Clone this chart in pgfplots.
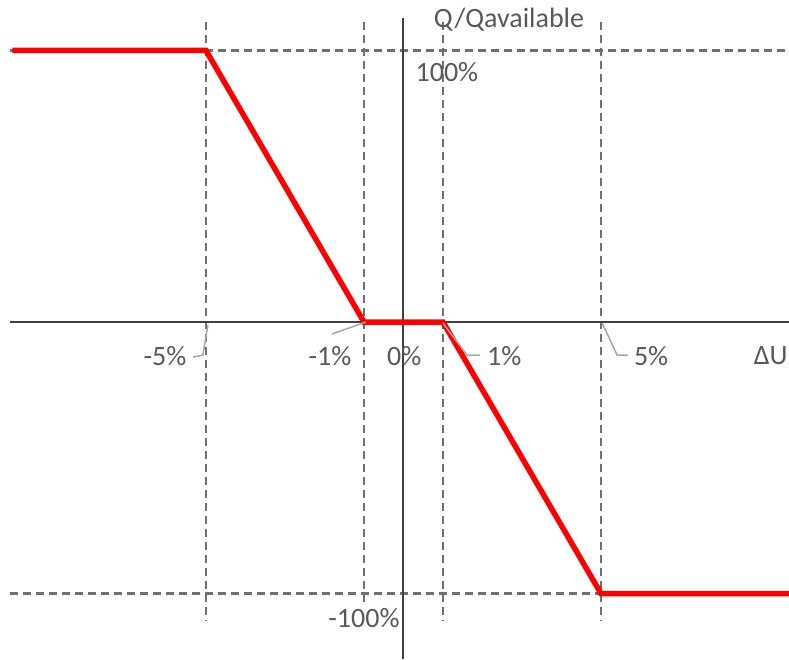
\documentclass[border=0pt]{standalone}
\usepackage{fontspec}
\setmainfont{Carlito}
\usepackage{pgfplots}
\pgfplotsset{compat=1.18}
\definecolor{txt}{HTML}{595959}
\definecolor{dsh}{HTML}{707070}
\definecolor{axc}{HTML}{404040}
\definecolor{lead}{HTML}{A6A6A6}
\begin{document}
\begin{tikzpicture}[lbl/.style={txt, font=\fontsize{28}{33}\selectfont, inner sep=1pt}]
\useasboundingbox (0,0) rectangle (789pt,659pt);
\begin{axis}[at={(0,0)}, anchor=south west, scale only axis,
  width=789pt, height=659pt,
  xmin=-10.215, xmax=9.76, ymin=-124.1, ymax=118.6,
  hide axis, clip=false]
% dashed guides
\addplot[dsh, line width=2.3pt, dash pattern=on 8pt off 5pt] coordinates {(-5,110.5) (-5,-109.8)};
\addplot[dsh, line width=2.3pt, dash pattern=on 8pt off 5pt] coordinates {(-1,110.5) (-1,-109.8)};
\addplot[dsh, line width=2.3pt, dash pattern=on 8pt off 5pt] coordinates {(1,110.5) (1,-109.8)};
\addplot[dsh, line width=2.3pt, dash pattern=on 8pt off 5pt] coordinates {(5,110.5) (5,-109.8)};
\addplot[dsh, line width=2.3pt, dash pattern=on 8pt off 5pt] coordinates {(-9.96,100) (9.76,100)};
\addplot[dsh, line width=2.3pt, dash pattern=on 8pt off 5pt] coordinates {(-9.96,-100) (9.76,-100)};
% axes
\addplot[axc, line width=2pt] coordinates {(-9.96,0) (9.76,0)};
\addplot[axc, line width=2pt] coordinates {(0,112) (0,-124.1)};
% characteristic
\addplot[red, line width=5.5pt, line join=miter] coordinates {(-9.9,100) (-5,100) (-1,0) (1,0) (5,-100) (9.76,-100)};
% leader lines
\draw[lead, line width=1.5pt] (axis cs:-4.95,-1.1) -- (axis cs:-5.08,-12.2) -- (axis cs:-5.33,-12.9);
\draw[lead, line width=1.5pt] (axis cs:-0.95,0) -- (axis cs:-1.81,-4.4);
\draw[lead, line width=1.5pt] (axis cs:1.0,-0.4) -- (axis cs:1.61,-12.2) -- (axis cs:1.94,-12.2);
\draw[lead, line width=1.5pt] (axis cs:5.03,-0.4) -- (axis cs:5.41,-12.2) -- (axis cs:5.68,-12.2);
% labels
\node[lbl] at (axis cs:2.67,111.2) {Q/Qavailable};
\node[lbl] at (axis cs:1.10,92.1) {100\%};
\node[lbl, fill=white] at (axis cs:-1.0,-109.0) {-100\%};
\node[lbl] at (axis cs:-6.04,-12.5) {-5\%};
\node[lbl] at (axis cs:-1.86,-12.5) {-1\%};
\node[lbl] at (axis cs:0.02,-12.5) {0\%};
\node[lbl] at (axis cs:2.55,-12.5) {1\%};
\node[lbl] at (axis cs:6.27,-12.5) {5\%};
\node[lbl] at (axis cs:9.3,-12.5) {ΔU};
\end{axis}
\end{tikzpicture}
\end{document}
